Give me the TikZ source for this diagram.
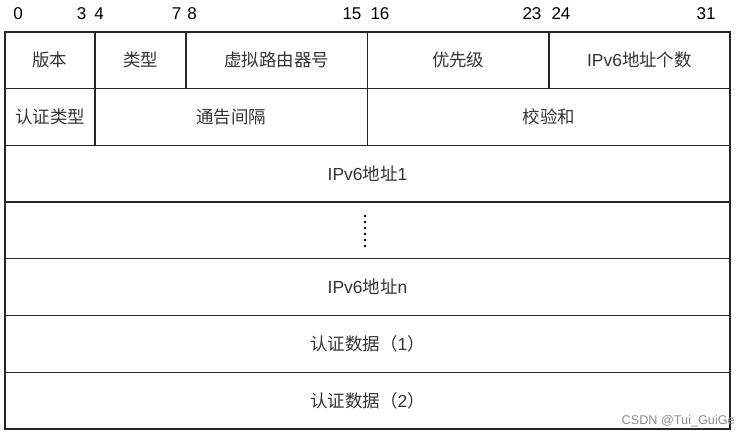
\documentclass[tikz,border=0pt]{standalone}
\usepackage{fontspec}
\setmainfont{Liberation Sans}
\newfontfamily\cjk{Noto Sans CJK SC}
\newfontfamily\lat{Liberation Sans}
\usetikzlibrary{fit}
\definecolor{ln}{HTML}{262626}
\definecolor{tx}{HTML}{333333}
\begin{document}
\begin{tikzpicture}[x=0.75pt,y=-0.75pt,
  cell/.style={draw=ln,line width=0.9pt,inner sep=0pt},
  ctext/.style={label={[text=tx,font=\cjk\fontsize{13.1}{15}\selectfont,inner sep=0pt]center:#1}},
  bitnum/.style={text=black,font=\fontsize{12.8}{14}\selectfont,inner sep=0pt,anchor=base},
  dot/.style={circle,fill=black,inner sep=0pt,minimum size=2.2pt}]
\useasboundingbox (0,0) rectangle (751,438);
% header bit numbers
\node[bitnum] (n0)  at (18,19.5) {0};
\node[bitnum] (n3)  at (81.7,19.5) {3};
\node[bitnum] (n4)  at (99,19.5) {4};
\node[bitnum] (n7)  at (176.5,19.5) {7};
\node[bitnum] (n8)  at (192,19.5) {8};
\node[bitnum] (n15) at (352,19.5) {15};
\node[bitnum] (n16) at (380,19.5) {16};
\node[bitnum] (n23) at (532,19.5) {23};
\node[bitnum] (n24) at (561,19.5) {24};
\node[bitnum] (n31) at (706,19.5) {31};
% row 1
\node[cell,fit={(5,32)(95,88.7)},ctext={版本}] (ver) {};
\node[cell,fit={(95,32)(186,88.7)},ctext={类型}] (typ) {};
\node[cell,fit={(186,32)(367.5,88.7)},ctext={虚拟路由器号}] (vrid) {};
\node[cell,fit={(367.5,32)(549,88.7)},ctext={优先级}] (pri) {};
\node[cell,fit={(549,32)(730,88.7)},ctext={{\lat IPv6}地址个数}] (cnt) {};
% row 2
\node[cell,fit={(5,88.7)(95,145.4)},ctext={认证类型}] (auth) {};
\node[cell,fit={(95,88.7)(367.5,145.4)},ctext={通告间隔}] (adv) {};
\node[cell,fit={(367.5,88.7)(730,145.4)},ctext={校验和}] (chk) {};
% rows 3-7
\node[cell,fit={(5,145.4)(730,202.1)},ctext={{\lat IPv6}地址{\lat 1}}] (ip1) {};
\node[cell,fit={(5,202.1)(730,258.8)}] (mid) {};
\node[cell,fit={(5,258.8)(730,315.5)},ctext={{\lat IPv6}地址{\lat n}}] (ipn) {};
\node[cell,fit={(5,315.5)(730,372.2)},ctext={认证数据（{\lat 1}）}] (ad1) {};
\node[cell,fit={(5,372.2)(730,429)},ctext={认证数据（{\lat 2}）}] (ad2) {};
% vertical dots
\foreach \i in {0,...,5}{\node[dot] (d\i) at (365,216+6*\i) {};}
% watermark
\node[text=black!45,font=\fontsize{9.5}{11}\selectfont,anchor=base east,inner sep=0pt] (wm) at (735,425) {CSDN @Tui\_GuiGe};
\end{tikzpicture}
\end{document}
